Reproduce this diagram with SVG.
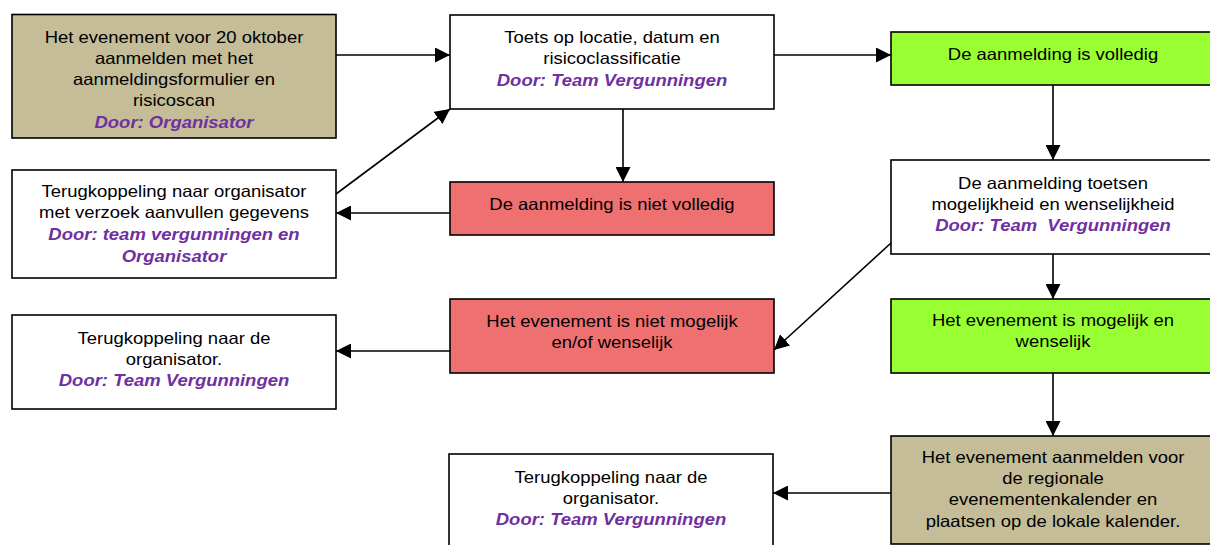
<svg xmlns="http://www.w3.org/2000/svg" width="1210" height="545" viewBox="0 0 1210 545">
<style>
.box{stroke:#000;stroke-width:1.6}
.tan{fill:#C4BD97}
.white{fill:#fff}
.green{fill:#99FF33}
.red{fill:#EF7070}
text{font-family:"Liberation Sans",Arial,sans-serif;font-size:16.5px;fill:#000;text-anchor:middle}
.door{fill:#7030A0;font-weight:bold;font-style:italic}
.conn line{stroke:#000;stroke-width:1.6;fill:none;marker-end:url(#arr)}
</style>
<defs>
<marker id="arr" markerUnits="userSpaceOnUse" markerWidth="15" markerHeight="15" refX="15" refY="7.5" orient="auto">
<path d="M0,0 L15,7.5 L0,15 Z" fill="#000"/>
</marker>
</defs>
<rect width="1210" height="545" fill="#fff"/>

<g id="n1">
<rect class="box tan" x="12" y="14.5" width="324" height="123.5"/>
<text transform="translate(174,0) scale(1.12,1)"><tspan x="0" y="43.5">Het evenement voor 20 oktober</tspan><tspan x="0" y="64.5">aanmelden met het</tspan><tspan x="0" y="85.5">aanmeldingsformulier en</tspan><tspan x="0" y="106.5">risicoscan</tspan><tspan class="door" x="0" y="128">Door: Organisator</tspan></text>
</g>

<g id="n2">
<rect class="box white" x="450" y="15" width="324" height="94"/>
<text transform="translate(612,0) scale(1.12,1)"><tspan x="0" y="43">Toets op locatie, datum en</tspan><tspan x="0" y="64.5">risicoclassificatie</tspan><tspan class="door" x="0" y="86">Door: Team Vergunningen</tspan></text>
</g>

<g id="n3">
<rect class="box green" x="891" y="32" width="324" height="53"/>
<text transform="translate(1053,0) scale(1.12,1)"><tspan x="0" y="60">De aanmelding is volledig</tspan></text>
</g>

<g id="n4">
<rect class="box white" x="891" y="160" width="324" height="94"/>
<text transform="translate(1053,0) scale(1.12,1)"><tspan x="0" y="189">De aanmelding toetsen</tspan><tspan x="0" y="210">mogelijkheid en wenselijkheid</tspan><tspan class="door" x="0" y="231.5" xml:space="preserve">Door: Team  Vergunningen</tspan></text>
</g>

<g id="n5">
<rect class="box red" x="450" y="182" width="324" height="53"/>
<text transform="translate(612,0) scale(1.12,1)"><tspan x="0" y="210">De aanmelding is niet volledig</tspan></text>
</g>

<g id="n6">
<rect class="box white" x="12" y="170" width="324" height="108"/>
<text transform="translate(174,0) scale(1.12,1)"><tspan x="0" y="197">Terugkoppeling naar organisator</tspan><tspan x="0" y="218.5">met verzoek aanvullen gegevens</tspan><tspan class="door" x="0" y="240.5">Door: team vergunningen en</tspan><tspan class="door" x="0" y="262">Organisator</tspan></text>
</g>

<g id="n7">
<rect class="box red" x="450" y="299" width="324" height="74"/>
<text transform="translate(612,0) scale(1.12,1)"><tspan x="0" y="327">Het evenement is niet mogelijk</tspan><tspan x="0" y="348">en/of wenselijk</tspan></text>
</g>

<g id="n8">
<rect class="box white" x="12" y="315" width="324" height="94"/>
<text transform="translate(174,0) scale(1.12,1)"><tspan x="0" y="344">Terugkoppeling naar de</tspan><tspan x="0" y="365">organisator.</tspan><tspan class="door" x="0" y="386.5">Door: Team Vergunningen</tspan></text>
</g>

<g id="n9">
<rect class="box green" x="891" y="299" width="324" height="74"/>
<text transform="translate(1053,0) scale(1.12,1)"><tspan x="0" y="326">Het evenement is mogelijk en</tspan><tspan x="0" y="347">wenselijk</tspan></text>
</g>

<g id="n10">
<rect class="box tan" x="891" y="436" width="324" height="108"/>
<text transform="translate(1053,0) scale(1.12,1)"><tspan x="0" y="463">Het evenement aanmelden voor</tspan><tspan x="0" y="484">de regionale</tspan><tspan x="0" y="505.5">evenementenkalender en</tspan><tspan x="0" y="527">plaatsen op de lokale kalender.</tspan></text>
</g>

<g id="n11">
<rect class="box white" x="449" y="454" width="324" height="100"/>
<text transform="translate(611,0) scale(1.12,1)"><tspan x="0" y="483">Terugkoppeling naar de</tspan><tspan x="0" y="504">organisator.</tspan><tspan class="door" x="0" y="525">Door: Team Vergunningen</tspan></text>
</g>

<g id="connectors" class="conn">
<line x1="336" y1="55" x2="450" y2="55"/>
<line x1="774" y1="55" x2="891" y2="55"/>
<line x1="623" y1="109" x2="623" y2="182"/>
<line x1="450" y1="213" x2="336" y2="213"/>
<line x1="336" y1="194" x2="450" y2="109"/>
<line x1="1053" y1="85" x2="1053" y2="160"/>
<line x1="891" y1="243" x2="774" y2="350"/>
<line x1="1053" y1="254" x2="1053" y2="299"/>
<line x1="450" y1="351" x2="336" y2="351"/>
<line x1="1053" y1="373" x2="1053" y2="436"/>
<line x1="891" y1="493" x2="773" y2="493"/>
</g>
</svg>
